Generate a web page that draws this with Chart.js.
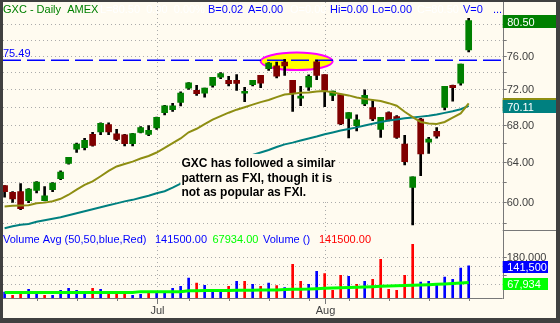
<!DOCTYPE html>
<html>
<head>
<meta charset="utf-8">
<title>GXC - Daily</title>
<script src="https://cdn.jsdelivr.net/npm/chart.js@4.4.1/dist/chart.umd.min.js"></script>
<style>
  html, body { margin: 0; padding: 0; background: #404040; }
  canvas { display: block; }
</style>
</head>
<body>
<canvas id="stockChart" width="560" height="323"></canvas>
<script>
// GXC daily bars, Jun 5 - Aug 27 2007
const dates = [
  "2007-06-05","2007-06-06","2007-06-07","2007-06-08","2007-06-11","2007-06-12","2007-06-13","2007-06-14","2007-06-15",
  "2007-06-18","2007-06-19","2007-06-20","2007-06-21","2007-06-22","2007-06-25","2007-06-26","2007-06-27","2007-06-28","2007-06-29",
  "2007-07-02","2007-07-03","2007-07-05","2007-07-06","2007-07-09","2007-07-10","2007-07-11","2007-07-12","2007-07-13",
  "2007-07-16","2007-07-17","2007-07-18","2007-07-19","2007-07-20","2007-07-23","2007-07-24","2007-07-25","2007-07-26","2007-07-27",
  "2007-07-30","2007-07-31","2007-08-01","2007-08-02","2007-08-03","2007-08-06","2007-08-07","2007-08-08","2007-08-09","2007-08-10",
  "2007-08-13","2007-08-14","2007-08-15","2007-08-16","2007-08-17","2007-08-20","2007-08-21","2007-08-22","2007-08-23","2007-08-24","2007-08-27"
];
const opens  = [61.6,60.95,61.0,60.13,61.13,60.13,61.2,62.3,63.87,65.34,65.5,66.95,67.2,68.0,67.0,66.9,65.93,67.16,66.92,67.65,
                69.33,69.67,70.5,72.15,71.88,71.56,72.47,73.44,73.06,73.06,71.56,72.55,73.65,74.47,74.8,75.25,73.06,70.97,72.27,75.29,
                73.76,71.3,71.4,68.7,67.9,70.31,69.92,67.47,69.33,68.9,65.9,61.43,68.63,66.1,67.26,69.92,72.47,72.74,76.74];
const highs  = [61.6,61.0,61.8,61.3,62.0,61.5,61.9,63.1,64.5,66.0,66.5,67.15,68.2,68.2,67.5,66.95,67.05,67.8,67.9,68.85,
                70.15,70.4,71.7,72.8,72.47,72.15,73.41,74.0,73.53,73.76,72.23,73.06,73.65,75.2,75.25,75.6,73.06,72.35,73.73,75.5,
                73.76,71.8,71.4,69.33,69.1,71.96,70.71,68.81,69.44,69.0,66.84,62.5,68.7,66.63,67.68,72.35,72.5,75.0,80.8];
const lows   = [60.45,59.95,59.25,59.93,60.87,60.1,61.0,62.2,63.77,65.0,65.26,65.68,66.9,66.9,66.25,65.7,65.7,67.1,66.8,67.47,
                69.08,69.48,70.1,72.0,71.3,71.1,72.27,73.25,72.39,71.88,70.58,72.4,72.2,74.25,73.34,73.65,69.48,70.12,71.88,73.14,
                70.0,70.7,68.0,66.56,67.3,70.12,68.44,66.6,68.4,66.5,63.7,57.8,62.6,64.9,66.53,69.63,70.63,72.5,76.5];
const closes = [61.0,60.3,59.35,61.27,61.97,60.6,61.87,62.97,64.5,65.9,66.3,65.76,68.15,67.2,66.4,65.93,67.02,67.68,67.37,68.8,
                70.12,70.12,71.56,72.78,71.5,72.15,73.41,73.88,72.67,72.7,71.76,73.06,72.74,75.13,73.55,74.79,71.56,71.21,73.53,73.65,
                71.88,71.8,68.08,69.33,68.52,71.3,68.63,68.81,68.44,66.6,64.03,62.5,64.84,66.42,66.74,72.35,72.2,75.0,80.5];
// moving averages (olive = short, teal = long)
const maShort = [59.55,59.62,59.65,59.68,59.87,59.93,60.07,60.3,60.7,61.2,61.67,62.03,62.55,63.1,63.55,63.8,64.05,64.37,64.63,65.0,
                 65.48,66.0,66.5,67.16,67.55,68.06,68.56,68.95,69.33,69.67,69.95,70.24,70.53,70.77,71.1,71.4,71.5,71.6,71.65,71.75,
                 71.8,71.65,71.47,71.3,71.06,70.9,70.77,70.65,70.41,70.12,69.44,68.84,68.3,68.12,68.08,68.3,68.78,69.25,70.39];
const maLong  = [57.5,57.67,57.81,57.9,58.1,58.24,58.38,58.52,58.71,58.9,59.1,59.29,59.48,59.67,59.86,60.05,60.2,60.4,60.6,60.85,
                 61.05,61.4,61.8,62.1,62.4,62.75,63.05,63.4,63.7,64.0,64.37,64.74,65.0,65.26,65.58,65.86,66.05,66.28,66.5,66.71,
                 66.95,67.14,67.35,67.53,67.7,67.9,68.1,68.3,68.45,68.58,68.7,68.8,68.89,69.0,69.14,69.31,69.5,69.72,70.11];
const volumes = [26000,12000,22000,38000,29000,12000,12000,34000,43000,34000,29000,43000,38000,29000,29000,16000,12000,16000,25000,29000,
                 25000,43000,51000,88000,66000,56000,38000,26000,51000,73000,73000,60000,51000,66000,55000,46000,148000,73000,60000,117000,
                 107000,34000,100000,95000,60000,73000,82000,170000,38000,34000,100000,236000,70000,73000,63000,92000,82000,132000,141500];
const volumeUp = [1,0,0,1,1,0,1,1,1,1, 1,0,1,0,0,0,1,1,0,1, 1,1,1,1,0,1,1,1,0,1,
                  0,1,0,1,0,1,0,0,1,1, 0,0,0,1,0,1,0,0,0,0, 0,0,1,1,1,1,1,1,1];
const volumeAvg = [24000,24000,24000,24000,24000,24000,24000,24000,24000,24000,24000,24000,24000,24000,24000,24000,24000,
                   28000,28000,28000,28000,28000,28000,
                   32000,32300,32600,32900,33200,33500,33800,34100,34400,34700,35000,35500,
                   37000,38500,39000,39600,41000,42500,43500,45000,45700,47000,48500,50000,51400,52500,53500,54500,55800,57000,
                   58500,60000,61700,63400,65500,67934];

const priceGrid = [58, 60, 62, 64, 66, 68, 70, 72, 74, 76, 78, 80];
const priceLabels = [60, 64, 68, 72, 76];
const volumeGrid = [60000, 100000, 140000, 180000];
const volumeLabels = [180000];
const resistance = 75.49;
const monthNames = ["Jan","Feb","Mar","Apr","May","Jun","Jul","Aug","Sep","Oct","Nov","Dec"];

const noteLines = ["GXC has followed a similar", "pattern as FXI, though it is", "not as popular as FXI."];

const FRAME = "#404040";
const PAPER = "#FFFBF0";
const GRID = "#ababab";
const AXIS = "#787878";
const TEXT = "#404040";
const FONT = '11px "Liberation Sans", Arial, sans-serif';

// panel layout: price on top, volume underneath, sharing one chart area
const plotTop = 2, plotBottom = 298, panelSplit = 230;
const priceHi = 82.95, priceLo = 57.33;
const volumeHi = 299000;
const k = (plotBottom - panelSplit) / (panelSplit - plotTop);
const priceMin = Math.exp(Math.log(priceLo) - k * (Math.log(priceHi) - Math.log(priceLo)));
const volumeMax = volumeHi * (plotBottom - plotTop) / (plotBottom - panelSplit);
const xMin = -0.2, xMax = 62.25;

function fmt(n) {
  return n.toLocaleString("en-US");
}

function line(ctx, x1, y1, x2, y2, color, width, dash) {
  ctx.save();
  ctx.strokeStyle = color;
  ctx.lineWidth = width;
  ctx.setLineDash(dash || []);
  ctx.beginPath();
  ctx.moveTo(x1, y1);
  ctx.lineTo(x2, y2);
  ctx.stroke();
  ctx.restore();
}

function valueBox(ctx, y, h, x0, x1, color, label) {
  ctx.fillStyle = color;
  ctx.fillRect(x0, Math.round(y - h / 2) + 1, x1 - x0, h);
  ctx.fillStyle = "#ffffff";
  ctx.font = FONT;
  ctx.textBaseline = "middle";
  ctx.textAlign = "left";
  ctx.fillText(label, x0 + 4.5, Math.round(y) + 1.5);
}

const panelPlugin = {
  id: "panels",
  beforeDraw(chart) {
    const ctx = chart.ctx;
    ctx.save();
    ctx.fillStyle = FRAME;
    ctx.fillRect(0, 0, chart.width, chart.height);
    ctx.fillStyle = PAPER;
    ctx.fillRect(3, 2, chart.width - 7, chart.height - 7);
    ctx.restore();
  },
  beforeDatasetsDraw(chart) {
    const ctx = chart.ctx;
    const a = chart.chartArea;
    const xs = chart.scales.x, ys = chart.scales.y, vs = chart.scales.yv;
    priceGrid.forEach(v => {
      const y = Math.round(ys.getPixelForValue(v)) + 0.5;
      line(ctx, a.left, y, a.right, y, GRID, 1, [1, 3]);
    });
    volumeGrid.forEach(v => {
      const y = Math.round(vs.getPixelForValue(v)) + 0.5;
      line(ctx, a.left, y, a.right, y, GRID, 1, [1, 3]);
    });
    dates.forEach((d, i) => {
      if (i > 0 && d.slice(5, 7) !== dates[i - 1].slice(5, 7)) {
        const x = Math.round(xs.getPixelForValue(i)) + 0.5;
        line(ctx, x, a.top, x, a.bottom, GRID, 1, [1, 3]);
      }
    });
    // highlighted top area
    ctx.save();
    ctx.beginPath();
    ctx.ellipse(xs.getPixelForValue(36.5), ys.getPixelForValue(75.35), 36, 8.7, 0, 0, Math.PI * 2);
    ctx.fillStyle = "#FFFF00";
    ctx.fill();
    ctx.lineWidth = 2;
    ctx.strokeStyle = "#FF00FF";
    ctx.stroke();
    ctx.restore();
  },
  afterDatasetsDraw(chart) {
    const ctx = chart.ctx;
    const x = chart.scales.x.getPixelForValue(22.1);
    const y = chart.scales.y.getPixelForValue(63.5);
    ctx.save();
    ctx.fillStyle = PAPER;
    ctx.fillRect(x - 1, y - 13, 156, 47);
    ctx.fillStyle = "#000000";
    ctx.font = 'bold 12px "Liberation Sans", Arial, sans-serif';
    ctx.textBaseline = "alphabetic";
    noteLines.forEach((t, i) => ctx.fillText(t, x, y + i * 14.7));
    ctx.restore();
  },
  afterDraw(chart) {
    const ctx = chart.ctx;
    const a = chart.chartArea;
    const xs = chart.scales.x, ys = chart.scales.y, vs = chart.scales.yv;
    const right = a.right;
    const edge = chart.width - 4;

    // axis frame
    line(ctx, Math.round(right) + 0.5, a.top, Math.round(right) + 0.5, a.bottom + 1, AXIS, 1);
    line(ctx, a.left, a.bottom + 0.5, right, a.bottom + 0.5, AXIS, 1);
    line(ctx, right, panelSplit + 0.5, edge, panelSplit + 0.5, AXIS, 1);

    ctx.save();
    ctx.font = FONT;
    ctx.textBaseline = "middle";
    ctx.textAlign = "left";
    ctx.fillStyle = TEXT;
    priceGrid.forEach(v => {
      const y = Math.round(ys.getPixelForValue(v)) + 0.5;
      line(ctx, right, y, right + 4, y, AXIS, 1);
    });
    priceLabels.forEach(v => {
      ctx.fillText(v.toFixed(2), right + 4, Math.round(ys.getPixelForValue(v)) + 1);
    });
    volumeGrid.forEach(v => {
      const y = Math.round(vs.getPixelForValue(v)) + 0.5;
      line(ctx, right, y, right + 4, y, AXIS, 1);
    });
    volumeLabels.forEach(v => {
      ctx.fillText(fmt(v), right + 4, Math.round(vs.getPixelForValue(v)) + 1);
    });

    // date ticks: Mondays short, month starts long with name
    ctx.textAlign = "center";
    ctx.textBaseline = "alphabetic";
    dates.forEach((d, i) => {
      const x = Math.round(xs.getPixelForValue(i)) + 0.5;
      const newMonth = i > 0 && d.slice(5, 7) !== dates[i - 1].slice(5, 7);
      const monday = new Date(d + "T00:00:00Z").getUTCDay() === 1;
      if (newMonth) {
        line(ctx, x, a.bottom, x, a.bottom + 6, AXIS, 1);
        ctx.fillStyle = TEXT;
        ctx.fillText(monthNames[+d.slice(5, 7) - 1], x, a.bottom + 16);
      } else if (monday) {
        line(ctx, x, a.bottom, x, a.bottom + 3, AXIS, 1);
      }
    });
    ctx.restore();

    // last value boxes
    const n = closes.length - 1;
    valueBox(ctx, ys.getPixelForValue(closes[n]), 13, right, edge, "#008000", closes[n].toFixed(2));
    valueBox(ctx, ys.getPixelForValue(maShort[n]), 13, right, edge, "#8E8E12", maShort[n].toFixed(2));
    valueBox(ctx, ys.getPixelForValue(maLong[n]), 13, right, edge, "#008080", maLong[n].toFixed(2));
    valueBox(ctx, vs.getPixelForValue(volumes[n]), 12, right, 548, "#0000FF", fmt(volumes[n]));
    valueBox(ctx, vs.getPixelForValue(volumeAvg[n]), 12, right, 548, "#00FF00", fmt(volumeAvg[n]));

    // header lines
    ctx.save();
    ctx.font = FONT;
    ctx.textBaseline = "alphabetic";
    ctx.textAlign = "left";
    const head = [
      ["GXC - Daily  AMEX", 3, "#008000"],
      ["L=" + closes[n].toFixed(2) + "  0.00  0.00%", 100, "#ffffff"],
      ["B=0.02", 208, "#0000FF"],
      ["A=0.00", 248, "#0000FF"],
      ["O=0.00", 290, "#ffffff"],
      ["Hi=0.00", 330, "#0000FF"],
      ["Lo=0.00", 372, "#0000FF"],
      ["C=" + closes[n].toFixed(2), 417, "#ffffff"],
      ["V=0", 463, "#0000FF"],
      ["...", 493, "#0000FF"]
    ];
    head.forEach(([t, x, c]) => { ctx.fillStyle = c; ctx.fillText(t, x, 13); });
    const volHead = [
      ["Volume Avg (50,50,blue,Red)", 3, "#0000FF"],
      [volumes[n].toFixed(2), 155, "#0000FF"],
      [volumeAvg[n].toFixed(2), 212.5, "#00FF00"],
      ["Volume ()", 263, "#0000FF"],
      [volumes[n].toFixed(2), 319, "#FF0000"]
    ];
    volHead.forEach(([t, x, c]) => { ctx.fillStyle = c; ctx.fillText(t, x, 242.5); });
    ctx.fillStyle = "#0000FF";
    ctx.fillText(resistance.toFixed(2), 3, Math.round(ys.getPixelForValue(resistance)) - 3.5);
    ctx.restore();
  }
};

const idx = dates.map((d, i) => i);

new Chart(document.getElementById("stockChart"), {
  type: "bar",
  data: {
    datasets: [
      {
        type: "line",
        label: "75.49",
        data: [{ x: xMin, y: resistance }, { x: xMax, y: resistance }],
        yAxisID: "y",
        borderColor: "#0000FF",
        borderWidth: 1.5,
        borderDash: [18, 6],
        pointRadius: 0,
        order: 9
      },
      {
        label: "range",
        data: idx.map(i => ({ x: i, y: [lows[i], highs[i]] })),
        yAxisID: "y",
        backgroundColor: "#000000",
        barThickness: 2,
        grouped: false,
        order: 8
      },
      {
        label: "body",
        data: idx.map(i => ({ x: i, y: [opens[i], closes[i]] })),
        yAxisID: "y",
        backgroundColor: idx.map(i => closes[i] >= opens[i] ? "#008000" : "#800000"),
        barThickness: 6,
        grouped: false,
        order: 7
      },
      {
        label: "volume",
        data: idx.map(i => ({ x: i, y: volumes[i] })),
        yAxisID: "yv",
        backgroundColor: volumeUp.map(u => u ? "#0000FF" : "#FF0000"),
        barThickness: 2,
        grouped: false,
        order: 6
      },
      {
        type: "line",
        label: "volume avg",
        data: idx.map(i => ({ x: i, y: volumeAvg[i] })),
        yAxisID: "yv",
        borderColor: "#00FF00",
        borderWidth: 3,
        pointRadius: 0,
        order: 5
      },
      {
        type: "line",
        label: "long MA",
        data: idx.map(i => ({ x: i, y: maLong[i] })),
        yAxisID: "y",
        borderColor: "#008080",
        borderWidth: 2,
        pointRadius: 0,
        order: 4
      },
      {
        type: "line",
        label: "short MA",
        data: idx.map(i => ({ x: i, y: maShort[i] })),
        yAxisID: "y",
        borderColor: "#8E8E12",
        borderWidth: 2,
        pointRadius: 0,
        order: 3
      }
    ]
  },
  options: {
    responsive: false,
    devicePixelRatio: 1,
    animation: false,
    events: [],
    layout: { padding: { left: 3, top: plotTop, right: 57.3, bottom: 323 - plotBottom } },
    plugins: { legend: { display: false }, tooltip: { enabled: false } },
    scales: {
      x: { type: "linear", min: xMin, max: xMax, offset: false, display: false },
      y: { type: "logarithmic", min: priceMin, max: priceHi, display: false },
      yv: { type: "linear", min: 0, max: volumeMax, display: false }
    }
  },
  plugins: [panelPlugin]
});
</script>
</body>
</html>
